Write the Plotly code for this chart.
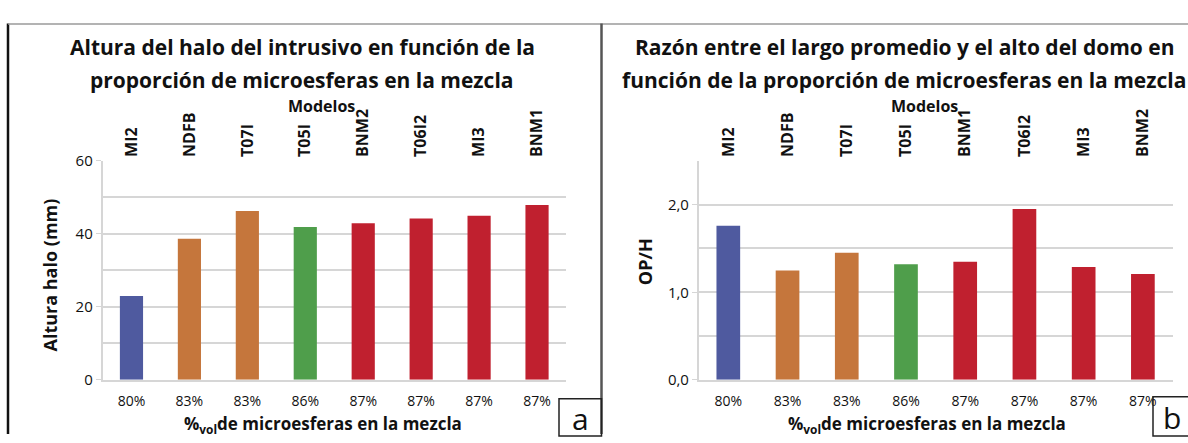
import plotly.graph_objects as go

# Data
porcentaje_a = ["80%", "83%", "83%", "86%", "87%", "87%", "87%", "87%"]
modelos_a = ["MI2", "NDFB", "T07I", "T05I", "BNM2", "T06I2", "MI3", "BNM1"]
altura_halo = [23.0, 38.7, 46.3, 41.9, 42.9, 44.2, 45.0, 47.9]

porcentaje_b = ["80%", "83%", "83%", "86%", "87%", "87%", "87%", "87%"]
modelos_b = ["MI2", "NDFB", "T07I", "T05I", "BNM1", "T06I2", "MI3", "BNM2"]
razon_op_h = [1.76, 1.25, 1.45, 1.32, 1.35, 1.95, 1.29, 1.21]

AZUL, NARANJA, VERDE, ROJO = "#4f5a9f", "#c5763c", "#4f9e4b", "#c0202f"
colores = [AZUL, NARANJA, NARANJA, VERDE, ROJO, ROJO, ROJO, ROJO]

W, H = 1188, 443
FONT = "Open Sans"
TXT = "#111111"
GRID = "#d6d6d6"


def px(x):
    return x / W


def py(y):
    return 1 - y / H


pos = list(range(len(modelos_a)))

fig = go.Figure()

fig.add_trace(go.Bar(x=pos, y=altura_halo, marker=dict(color=colores, line=dict(width=0)),
                     width=0.4, xaxis="x", yaxis="y", hoverinfo="y"))
fig.add_trace(go.Scatter(x=pos, y=altura_halo, mode="markers", marker=dict(opacity=0),
                         xaxis="x3", yaxis="y", hoverinfo="skip", showlegend=False))
fig.add_trace(go.Bar(x=pos, y=razon_op_h, marker=dict(color=colores, line=dict(width=0)),
                     width=0.4, xaxis="x2", yaxis="y2", hoverinfo="y"))
fig.add_trace(go.Scatter(x=pos, y=razon_op_h, mode="markers", marker=dict(opacity=0),
                         xaxis="x4", yaxis="y2", hoverinfo="skip", showlegend=False))

dom_ax = [px(102.5), px(566)]
dom_bx = [px(698.7), px(1172.5)]
dom_y = [py(386.3), py(157)]

xbase = dict(range=[-0.5, 7.5], tickmode="array", tickvals=pos, showgrid=False, zeroline=False,
             ticks="", fixedrange=True)
bottom_font = dict(family=FONT, size=14, color=TXT)
top_font = dict(family=FONT, size=16, color=TXT, weight="bold")
ybase = dict(showgrid=True, gridcolor=GRID, gridwidth=1.5, zeroline=False, showline=True,
             linecolor=GRID, linewidth=1.5, ticks="outside", ticklen=5, tickcolor=GRID,
             tickfont=dict(family=FONT, size=15, color=TXT), fixedrange=True)

fig.update_layout(
    width=W, height=H, autosize=False,
    margin=dict(l=0, r=0, t=0, b=0),
    paper_bgcolor="white", plot_bgcolor="white",
    showlegend=False, bargap=0.6,
    xaxis=dict(**xbase, domain=dom_ax, anchor="y", ticktext=porcentaje_a, tickfont=bottom_font,
               ticklabelstandoff=8, showline=True, linecolor=GRID, linewidth=1.5),
    xaxis3=dict(**xbase, tickfont=top_font, overlaying="x", side="top", anchor="y",
                ticktext=modelos_a, tickangle=-90, ticklabelstandoff=3),
    yaxis=dict(**ybase, domain=dom_y, anchor="x", range=[0, 60], tickmode="array",
               tickvals=[0, 20, 40, 60], ticktext=["0", "20", "40", "60"],
               minor=dict(tickmode="linear", tick0=0, dtick=10, showgrid=True,
                          gridcolor=GRID, gridwidth=1.5, ticks="")),
    xaxis2=dict(**xbase, domain=dom_bx, anchor="y2", ticktext=porcentaje_b, tickfont=bottom_font,
                ticklabelstandoff=8, showline=True, linecolor=GRID, linewidth=1.5),
    xaxis4=dict(**xbase, tickfont=top_font, overlaying="x2", side="top", anchor="y2",
                ticktext=modelos_b, tickangle=-90, ticklabelstandoff=3),
    yaxis2=dict(**ybase, domain=dom_y, anchor="x2", range=[0, 2.5], tickmode="array",
                tickvals=[0, 1, 2], ticktext=["0,0", "1,0", "2,0"],
                minor=dict(tickmode="linear", tick0=0, dtick=0.5, showgrid=True,
                           gridcolor=GRID, gridwidth=1.5, ticks="")),
)


def label(x, y, text, size, bold=True, angle=0, xanchor="center"):
    fig.add_annotation(x=px(x), y=py(y), xref="paper", yref="paper", text=text,
                       showarrow=False, textangle=angle, xanchor=xanchor, yanchor="middle",
                       font=dict(family=FONT, size=size, color="#111",
                                 weight="bold" if bold else "normal"))


# Titles
label(302, 38, "Altura del halo del intrusivo en función de la", 21)
label(302, 72, "proporción de microesferas en la mezcla", 21)
label(904, 38, "Razón entre el largo promedio y el alto del domo en", 21)
label(904, 72, "función de la proporción de microesferas en la mezcla", 21)

# Top category axis titles
label(321, 100, "Modelos", 16)
label(924, 100, "Modelos", 16)

# Bottom axis titles
label(323, 433, "%<sub>vol</sub>de microesferas en la mezcla", 17)
label(927, 433, "%<sub>vol</sub>de microesferas en la mezcla", 17)

# Vertical axis titles
label(50, 277, "Altura halo (mm)", 18, angle=-90)
label(645, 263, "OP/H", 18, angle=-90)

# Panel letters
label(580, 427, "a", 30, bold=False)
label(1172, 426, "b", 30, bold=False)

# Panel frame lines and letter boxes
shapes = [
    dict(x0=px(8), x1=px(8), y0=py(13), y1=py(443), line=dict(color="#111", width=2.5)),
    dict(x0=px(8), x1=px(1188), y0=py(13.5), y1=py(13.5), line=dict(color="#9a9a9a", width=1.5)),
    dict(x0=px(601.5), x1=px(601.5), y0=py(13), y1=py(443), line=dict(color="#555", width=2.5)),
    dict(type="rect", x0=px(559), x1=px(601.5), y0=py(406), y1=py(445), line=dict(color="#222", width=1.5)),
    dict(type="rect", x0=px(1153), x1=px(1192), y0=py(404), y1=py(445), line=dict(color="#222", width=1.5)),
]
for s in shapes:
    s.setdefault("type", "line")
    fig.add_shape(xref="paper", yref="paper", layer="above", **s)

fig.write_html("out.html")
